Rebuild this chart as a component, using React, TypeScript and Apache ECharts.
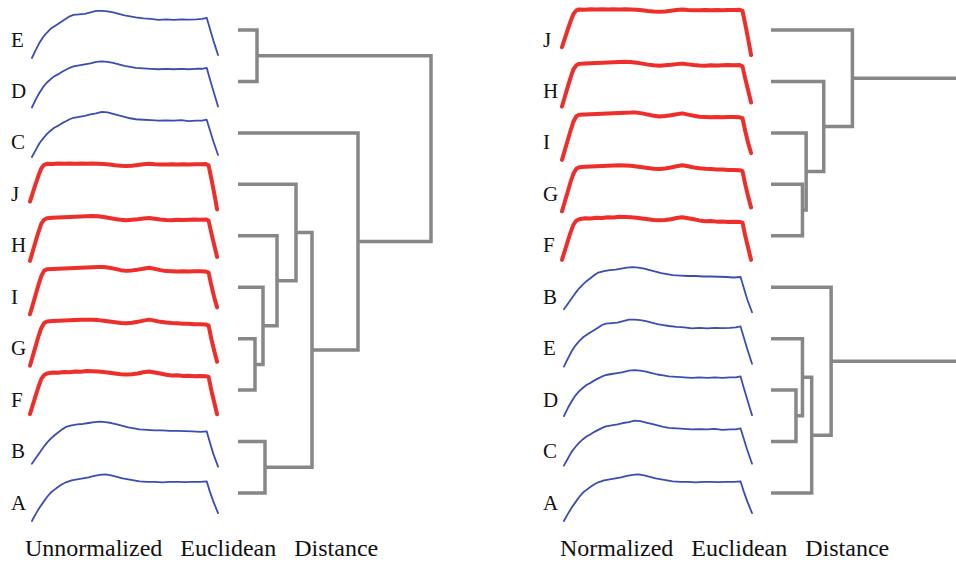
import { useEffect, useRef } from "react";
import * as echarts from "echarts";

// ---------- data ----------
const redSamples = ["F", "G", "H", "I", "J"];

const curveA = [[1,0.0],[3,0.14],[5,0.27],[7,0.38],[9,0.49],[11,0.58],[13,0.64],[15,0.7],[17,0.75],[19,0.79],[22,0.83],[25,0.85],[28,0.87],[31,0.89],[34,0.92],[37,0.94],[40,0.95],[43,0.93],[46,0.9],[49,0.87],[52,0.85],[55,0.83],[58,0.81],[62,0.8],[66,0.8],[70,0.79],[74,0.8],[78,0.8],[82,0.795],[86,0.8],[90,0.8],[93.5,0.81],[95,0.62],[97,0.4],[99.5,0.16]];
const curveB = [[1,0.12],[3,0.23],[5,0.34],[7,0.45],[9,0.55],[11,0.63],[13,0.7],[15,0.76],[17,0.82],[19,0.87],[22,0.9],[25,0.92],[28,0.93],[31,0.95],[34,0.97],[37,0.98],[40,0.97],[43,0.95],[46,0.92],[49,0.89],[52,0.86],[55,0.84],[58,0.82],[62,0.81],[66,0.8],[70,0.8],[74,0.79],[78,0.79],[82,0.785],[86,0.78],[90,0.77],[93.5,0.78],[95,0.58],[97,0.32],[99.5,0.06]];
const curveC = [[1,0.08],[3,0.22],[5,0.36],[7,0.46],[9,0.55],[11,0.62],[13,0.68],[15,0.72],[17,0.77],[19,0.81],[21,0.85],[23,0.88],[26,0.9],[29,0.92],[32,0.95],[35,0.97],[38,1.0],[41,0.99],[44,0.96],[47,0.93],[50,0.9],[53,0.87],[56,0.85],[60,0.84],[64,0.83],[68,0.82],[72,0.825],[76,0.82],[80,0.83],[84,0.81],[88,0.82],[91,0.82],[93.5,0.84],[95,0.65],[97,0.4],[99.5,0.12]];
const curveD = [[1,0.04],[3,0.2],[5,0.34],[7,0.46],[9,0.55],[11,0.62],[13,0.68],[15,0.72],[17,0.77],[19,0.81],[21,0.85],[23,0.88],[26,0.9],[29,0.92],[32,0.94],[35,0.97],[38,0.98],[41,0.97],[44,0.95],[47,0.92],[50,0.89],[53,0.87],[56,0.85],[60,0.84],[64,0.83],[68,0.82],[72,0.83],[76,0.82],[80,0.83],[84,0.82],[88,0.83],[91,0.83],[93.5,0.85],[95,0.64],[97,0.38],[99.5,0.06]];
const curveE = [[1,0.0],[3,0.16],[5,0.31],[7,0.43],[9,0.52],[11,0.6],[13,0.65],[15,0.7],[17,0.75],[19,0.8],[21,0.85],[23,0.88],[26,0.89],[29,0.9],[32,0.93],[35,0.96],[38,0.96],[41,0.95],[44,0.93],[47,0.9],[50,0.87],[53,0.85],[56,0.83],[60,0.81],[64,0.8],[68,0.78],[72,0.79],[76,0.78],[80,0.79],[84,0.785],[88,0.79],[91,0.8],[93.5,0.82],[95,0.62],[97,0.36],[99.5,0.06]];
const curveF = [[0,0.08],[1.5,0.27],[3,0.46],[4.5,0.64],[6,0.8],[7.5,0.88],[9,0.91],[12,0.93],[15,0.925],[18,0.94],[21,0.935],[24,0.95],[27,0.945],[30,0.96],[33,0.955],[36,0.95],[39,0.94],[42,0.925],[45,0.91],[48,0.895],[51,0.89],[54,0.895],[57,0.91],[60,0.935],[63,0.95],[66,0.93],[69,0.91],[72,0.885],[75,0.87],[78,0.875],[81,0.86],[84,0.865],[87,0.855],[90,0.86],[93,0.855],[94.5,0.84],[96,0.56],[97.5,0.32],[99,0.08]];
const curveG = [[0,0.02],[1.5,0.22],[3,0.42],[4.5,0.62],[6,0.79],[7.5,0.89],[9,0.92],[12,0.93],[15,0.935],[18,0.94],[21,0.945],[24,0.95],[27,0.955],[30,0.96],[33,0.955],[36,0.95],[39,0.935],[42,0.92],[45,0.905],[48,0.89],[51,0.885],[54,0.895],[57,0.915],[60,0.94],[63,0.96],[66,0.94],[69,0.915],[72,0.9],[75,0.89],[78,0.885],[81,0.875],[84,0.875],[87,0.865],[90,0.865],[93,0.86],[94.5,0.84],[96,0.56],[97.5,0.32],[99,0.1]];
const curveH = [[0,0.06],[1.5,0.26],[3,0.46],[4.5,0.65],[6,0.82],[7.5,0.9],[9,0.93],[12,0.94],[15,0.945],[18,0.95],[21,0.955],[24,0.96],[27,0.965],[30,0.97],[33,0.975],[36,0.97],[39,0.955],[42,0.935],[45,0.915],[48,0.9],[51,0.89],[54,0.9],[57,0.91],[60,0.925],[63,0.935],[66,0.92],[69,0.905],[72,0.895],[75,0.89],[78,0.9],[81,0.895],[84,0.9],[87,0.905],[90,0.9],[93,0.905],[94.5,0.88],[96,0.62],[97.5,0.38],[99,0.14]];
const curveI = [[0,0.02],[1.5,0.22],[3,0.42],[4.5,0.62],[6,0.8],[7.5,0.91],[9,0.94],[12,0.945],[15,0.95],[18,0.955],[21,0.96],[24,0.965],[27,0.97],[30,0.975],[33,0.98],[36,0.985],[39,0.985],[42,0.97],[45,0.945],[48,0.92],[51,0.905],[54,0.915],[57,0.93],[60,0.95],[63,0.97],[66,0.945],[69,0.92],[72,0.9],[75,0.895],[78,0.89],[81,0.895],[84,0.89],[87,0.895],[90,0.895],[93,0.89],[94.5,0.87],[96,0.6],[97.5,0.36],[99,0.16]];
const curveJ = [[0,0.22],[1.5,0.4],[3,0.58],[4.5,0.75],[6,0.9],[7.5,0.97],[9,0.99],[12,0.985],[15,0.995],[18,0.99],[21,0.995],[24,0.99],[27,0.995],[30,0.99],[33,0.995],[36,0.99],[39,0.985],[42,0.975],[45,0.96],[48,0.95],[51,0.945],[54,0.95],[57,0.965],[60,0.98],[63,0.99],[66,0.98],[69,0.975],[72,0.975],[75,0.98],[78,0.975],[81,0.98],[84,0.975],[87,0.98],[90,0.98],[93,0.985],[94.5,0.96],[96,0.68],[97.5,0.38],[99,0.06]];

const curves: Record<string, number[][]> = {
  A: curveA, B: curveB, C: curveC, D: curveD, E: curveE,
  F: curveF, G: curveG, H: curveH, I: curveI, J: curveJ,
};

// left: Unnormalized
const leftLeaves = ["E", "D", "C", "J", "H", "I", "G", "F", "B", "A"];
const leftMergeChildren: (string | number)[][] = [["E", "D"], ["G", "F"], ["I", 1], ["H", 2], ["J", 3], ["B", "A"], [4, 5], ["C", 6], [0, 7]];
const leftMergeHeights = [19, 17, 25, 39, 58, 27, 74, 120, 193];
const leftCaption = "Unnormalized   Euclidean   Distance";

// right: Normalized
const rightLeaves = ["J", "H", "I", "G", "F", "B", "E", "D", "C", "A"];
const rightMergeChildren: (string | number)[][] = [["G", "F"], ["I", 0], ["H", 1], ["J", 2], ["D", "C"], ["E", 4], [5, "A"], ["B", 6], [3, 7]];
const rightMergeHeights = [34, 38, 57, 88, 27, 34, 44, 65, 220];
const rightCaption = "Normalized   Euclidean   Distance";

// ---------- styling / layout ----------
const RED = "#ee2e2a";
const BLUE = "#3a4db3";
const GRAY = "#878787";
const SERIF = "Liberation Serif";
const ROW0 = 30;
const ROW_STEP = 463 / 9;

const panels = [
  { leaves: leftLeaves, children: leftMergeChildren, heights: leftMergeHeights, caption: leftCaption,
    curveLeft: 30, curveWidth: 189, labelX: 11, dendroLeft: 238, captionX: 25 },
  { leaves: rightLeaves, children: rightMergeChildren, heights: rightMergeHeights, caption: rightCaption,
    curveLeft: 562, curveWidth: 191, labelX: 543, dendroLeft: 771, captionX: 560 },
];

function treeSegments(leaves: string[], children: (string | number)[][], heights: number[]) {
  const pos: { h: number; y: number }[] = [];
  const get = (c: string | number) =>
    typeof c === "string" ? { h: 0, y: leaves.indexOf(c) } : pos[c];
  return children.map(([a, b], k) => {
    const A = get(a);
    const B = get(b);
    const h = heights[k];
    pos[k] = { h, y: (A.y + B.y) / 2 };
    return [[A.h, A.y], [h, A.y], [h, B.y], [B.h, B.y]];
  });
}

export default function App() {
  const ref = useRef<HTMLDivElement>(null);
  useEffect(() => {
    const chart = echarts.init(ref.current!, null, { renderer: "svg" });
    const grid: any[] = [];
    const xAxis: any[] = [];
    const yAxis: any[] = [];
    const series: any[] = [];
    const graphic: any[] = [];

    panels.forEach((p) => {
      // curves
      p.leaves.forEach((name, i) => {
        const leafY = ROW0 + i * ROW_STEP;
        const gi = grid.length;
        grid.push({ left: p.curveLeft, top: leafY - 21, width: p.curveWidth, height: 49 });
        xAxis.push({ gridIndex: gi, type: "value", min: 0, max: 100, show: false });
        yAxis.push({ gridIndex: gi, type: "value", min: 0, max: 1, show: false });
        const red = redSamples.includes(name);
        series.push({
          type: "line", xAxisIndex: gi, yAxisIndex: gi, data: curves[name],
          symbol: "none", clip: false, silent: true,
          lineStyle: { color: red ? RED : BLUE, width: red ? 4 : 1.8, join: "round", cap: "round" },
        });
        graphic.push({
          type: "text", left: p.labelX, top: leafY - 1,
          style: { text: name, fontFamily: SERIF, fontSize: 21, fill: "#111" },
        });
      });
      // dendrogram
      const gi = grid.length;
      grid.push({ left: p.dendroLeft, top: ROW0, width: 200, height: 9 * ROW_STEP });
      xAxis.push({ gridIndex: gi, type: "value", min: 0, max: 200, show: false });
      yAxis.push({ gridIndex: gi, type: "value", min: 0, max: 9, inverse: true, show: false });
      treeSegments(p.leaves, p.children, p.heights).forEach((seg) => {
        series.push({
          type: "line", xAxisIndex: gi, yAxisIndex: gi, data: seg,
          symbol: "none", clip: false, silent: true,
          lineStyle: { color: GRAY, width: 3.5, join: "miter", cap: "butt" },
        });
      });
      graphic.push({
        type: "text", left: p.captionX, top: 536,
        style: { text: p.caption, fontFamily: SERIF, fontSize: 24, fill: "#111" },
      });
    });

    chart.setOption({
      animation: false,
      backgroundColor: "#ffffff",
      grid, xAxis, yAxis, series, graphic,
    });
    return () => chart.dispose();
  }, []);
  return (
    <div
      ref={ref}
      style={{ position: "fixed", left: 0, top: 0, width: 956, height: 566 }}
    />
  );
}
